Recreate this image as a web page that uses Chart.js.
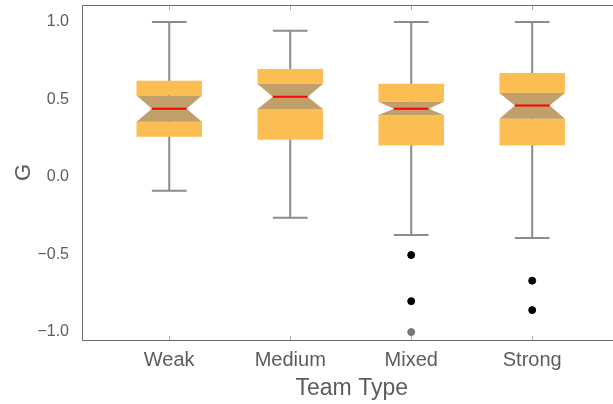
<!DOCTYPE html>
<html>
<head>
<meta charset="utf-8">
<script src="https://cdn.jsdelivr.net/npm/chart.js@4.4.1/dist/chart.umd.min.js"></script>
<style>
  html, body { margin: 0; padding: 0; background: #fff; overflow: hidden; }
  #wrap { width: 626px; height: 404px; }
</style>
</head>
<body>
<div id="wrap"><canvas id="chart"></canvas></div>
<script>
// box plot values
const categories = ["Weak", "Medium", "Mixed", "Strong"];
const whiskerLow = [-0.09, -0.265, -0.375, -0.395];
const q1 = [0.259, 0.24, 0.203, 0.203];
const notchLow = [0.356, 0.438, 0.399, 0.375];
const medians = [0.44, 0.518, 0.44, 0.46];
const notchHigh = [0.526, 0.6, 0.485, 0.542];
const q3 = [0.621, 0.697, 0.601, 0.671];
const whiskerHigh = [1.0, 0.943, 1.0, 1.0];

const outlierCats = ["Mixed", "Mixed", "Strong", "Strong"];
const outlierValues = [-0.505, -0.803, -0.671, -0.861];
const farOutlierCats = ["Mixed"];
const farOutlierValues = [-1.003];

const yTicks = [-1, -0.5, 0, 0.5, 1];

const BOX_W = 0.541;    // in x units
const NOTCH_W = 0.287;
const CAP_W = 0.287;

function toPoints(cats, vals) {
  return cats.map((c, i) => ({ x: categories.indexOf(c) + 1, y: vals[i] }));
}

const boxPlugin = {
  id: "boxes",
  beforeDatasetsDraw(chart) {
    const ctx = chart.ctx;
    const xs = chart.scales.x, ys = chart.scales.y;
    ctx.save();
    categories.forEach((c, i) => {
      const xc = xs.getPixelForValue(i + 1);
      const half = (xs.getPixelForValue(1 + BOX_W / 2) - xs.getPixelForValue(1));
      const nh = (xs.getPixelForValue(1 + NOTCH_W / 2) - xs.getPixelForValue(1));
      const ch = (xs.getPixelForValue(1 + CAP_W / 2) - xs.getPixelForValue(1));
      const y = v => ys.getPixelForValue(v);

      // whisker
      ctx.strokeStyle = "#8c8c8c";
      ctx.lineWidth = 2;
      ctx.beginPath();
      ctx.moveTo(xc, y(whiskerLow[i]));
      ctx.lineTo(xc, y(whiskerHigh[i]));
      ctx.moveTo(xc - ch, y(whiskerLow[i]));
      ctx.lineTo(xc + ch, y(whiskerLow[i]));
      ctx.moveTo(xc - ch, y(whiskerHigh[i]));
      ctx.lineTo(xc + ch, y(whiskerHigh[i]));
      ctx.stroke();

      // box parts outside the notch
      ctx.fillStyle = "#fbbe52";
      ctx.fillRect(xc - half, y(q3[i]), 2 * half, y(notchHigh[i]) - y(q3[i]));
      ctx.fillRect(xc - half, y(notchLow[i]), 2 * half, y(q1[i]) - y(notchLow[i]));

      // notch
      ctx.fillStyle = "#c09f6a";
      ctx.beginPath();
      ctx.moveTo(xc - half, y(notchHigh[i]));
      ctx.lineTo(xc + half, y(notchHigh[i]));
      ctx.lineTo(xc + nh, y(medians[i]));
      ctx.lineTo(xc + half, y(notchLow[i]));
      ctx.lineTo(xc - half, y(notchLow[i]));
      ctx.lineTo(xc - nh, y(medians[i]));
      ctx.closePath();
      ctx.fill();

      // median
      ctx.strokeStyle = "#ff0000";
      ctx.lineWidth = 2;
      ctx.beginPath();
      ctx.moveTo(xc - nh, y(medians[i]));
      ctx.lineTo(xc + nh, y(medians[i]));
      ctx.stroke();
    });
    ctx.restore();
  },
  afterDraw(chart) {
    const ctx = chart.ctx;
    const a = chart.chartArea;
    const xs = chart.scales.x;
    ctx.save();
    ctx.strokeStyle = "#6b6b6b";
    ctx.lineWidth = 1;
    ctx.beginPath();
    ctx.moveTo(a.left + 0.5, a.bottom + 0.5);
    ctx.lineTo(a.left + 0.5, a.top + 0.5);
    ctx.lineTo(a.right, a.top + 0.5);
    ctx.moveTo(a.left + 0.5, a.bottom + 0.5);
    ctx.lineTo(a.right, a.bottom + 0.5);
    ctx.stroke();
    ctx.strokeStyle = "#b0b0b0";
    ctx.beginPath();
    categories.forEach((c, i) => {
      const x = Math.round(xs.getPixelForValue(i + 1)) + 0.5;
      ctx.moveTo(x, a.bottom);
      ctx.lineTo(x, a.bottom - 4);
      ctx.moveTo(x, a.top + 1);
      ctx.lineTo(x, a.top + 5);
    });
    ctx.stroke();
    ctx.restore();
  }
};

const font = "'Liberation Sans', Arial, sans-serif";

new Chart(document.getElementById("chart"), {
  type: "scatter",
  data: {
    datasets: [
      {
        data: toPoints(outlierCats, outlierValues),
        backgroundColor: "#000",
        borderColor: "#000",
        pointRadius: 3.5,
        pointHoverRadius: 3.5
      },
      {
        data: toPoints(farOutlierCats, farOutlierValues),
        backgroundColor: "#777",
        borderColor: "#777",
        pointRadius: 3.5,
        pointHoverRadius: 3.5
      }
    ]
  },
  options: {
    responsive: true,
    maintainAspectRatio: false,
    animation: false,
    layout: { padding: { top: 5, right: 0, left: 0, bottom: 0 } },
    plugins: { legend: { display: false }, tooltip: { enabled: false } },
    scales: {
      x: {
        type: "linear",
        min: 0.279,
        max: 4.738,
        grid: { display: false },
        border: { display: false },
        afterBuildTicks: s => { s.ticks = categories.map((c, i) => ({ value: i + 1 })); },
        afterFit: s => { s.height = 64; s.paddingLeft = 0; s.paddingRight = 0; },
        ticks: {
          padding: 0,
          color: "#5c5c5c",
          font: { family: font, size: 20 },
          callback: v => categories[v - 1]
        },
        title: {
          display: true,
          text: "Team Type",
          color: "#5c5c5c",
          font: { family: font, size: 23 },
          padding: { top: 0, bottom: 2 }
        }
      },
      y: {
        min: -1.054,
        max: 1.11,
        grid: { display: false },
        border: { display: false },
        afterBuildTicks: s => { s.ticks = yTicks.map(v => ({ value: v })); },
        afterFit: s => { s.width = 82; s.paddingTop = 0; s.paddingBottom = 0; },
        ticks: {
          padding: 5,
          color: "#5c5c5c",
          font: { family: font, size: 16 },
          callback: v => (v < 0 ? "\u2212" : "") + Math.abs(v).toFixed(1)
        },
        title: {
          display: true,
          text: "G",
          color: "#5c5c5c",
          font: { family: font, size: 22 },
          padding: { top: 11, bottom: 0 }
        }
      }
    }
  },
  plugins: [boxPlugin]
});
</script>
</body>
</html>
